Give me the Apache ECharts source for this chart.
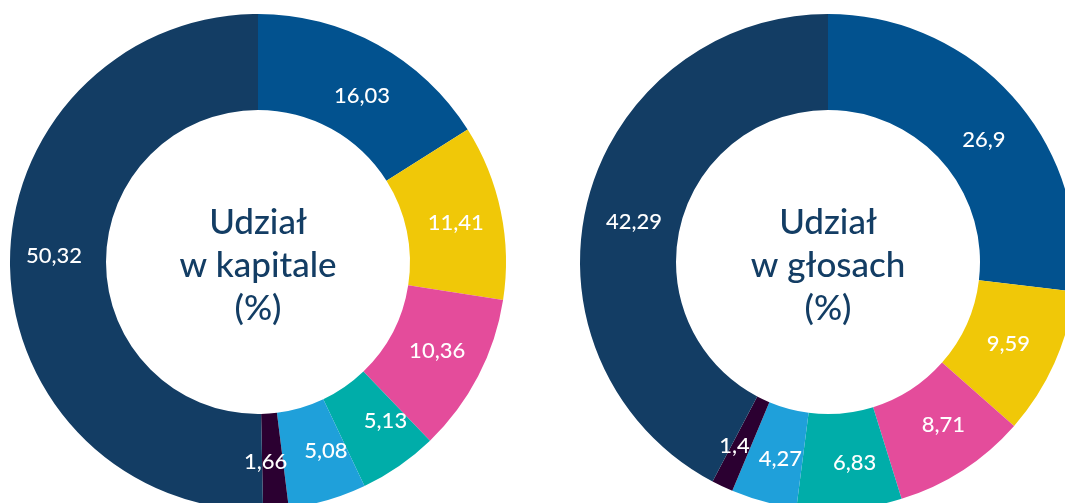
<!DOCTYPE html>
<html>
<head>
<meta charset="utf-8">
<script src="https://cdn.jsdelivr.net/npm/echarts@6/dist/echarts.min.js"></script>
<style>
  html, body { margin: 0; padding: 0; background: #fff; }
  #chart { width: 1065px; height: 503px; }
</style>
</head>
<body>
<div id="chart"></div>
<script>
// slice order, clockwise from 12 o'clock
const categories = ['A', 'B', 'C', 'D', 'E', 'F', 'G'];
const capitalValues = [16.03, 11.41, 10.36, 5.13, 5.08, 1.66, 50.32];
const votesValues = [26.9, 9.59, 8.71, 6.83, 4.27, 1.4, 42.29];
const capitalTitle = 'Udział\nw kapitale\n(%)';
const votesTitle = 'Udział\nw głosach\n(%)';

const colors = ['#02528f', '#f0c808', '#e44c9b', '#00ada9', '#1fa0da', '#2b0031', '#133d64'];
const navy = '#133d64';
const fontFamily = 'Lato, "Noto Sans", sans-serif';

// small label nudges so they sit like in the original design
const capitalLabelOffsets = [[6, 12], [-1, 2], [-1, -5], [12, -8], [11, -6], [-7, -3], [-1, -8]];
const votesLabelOffsets = [[4, 13], [-5, -1], [5, -7], [9, -1], [5, 1], [-7, 0], [3, 9]];

const chart = echarts.init(document.getElementById('chart'));

const fmt = v => String(v).replace('.', ',');

const makeSeries = (values, offsets, cx) => ({
  type: 'pie',
  center: [cx, 262],
  radius: [152, 248],
  startAngle: 90,
  clockwise: true,
  silent: true,
  avoidLabelOverlap: false,
  itemStyle: { borderWidth: 0 },
  label: {
    show: true,
    position: 'inside',
    color: '#fff',
    fontSize: 22,
    fontWeight: 500,
    fontFamily: fontFamily,
    formatter: p => fmt(p.value)
  },
  labelLine: { show: false },
  data: values.map((v, i) => ({
    name: categories[i],
    value: v,
    itemStyle: { color: colors[i] },
    label: { offset: offsets[i] }
  }))
});

const centerText = (text, cx) => ({
  type: 'text',
  x: cx,
  y: 266,
  style: {
    text: text,
    fill: navy,
    font: '500 35px ' + fontFamily,
    lineHeight: 43,
    textAlign: 'center',
    textVerticalAlign: 'middle'
  }
});

chart.setOption({
  animation: false,
  series: [
    makeSeries(capitalValues, capitalLabelOffsets, 258),
    makeSeries(votesValues, votesLabelOffsets, 828)
  ],
  graphic: [
    centerText(capitalTitle, 258),
    centerText(votesTitle, 828)
  ]
});
</script>
</body>
</html>
